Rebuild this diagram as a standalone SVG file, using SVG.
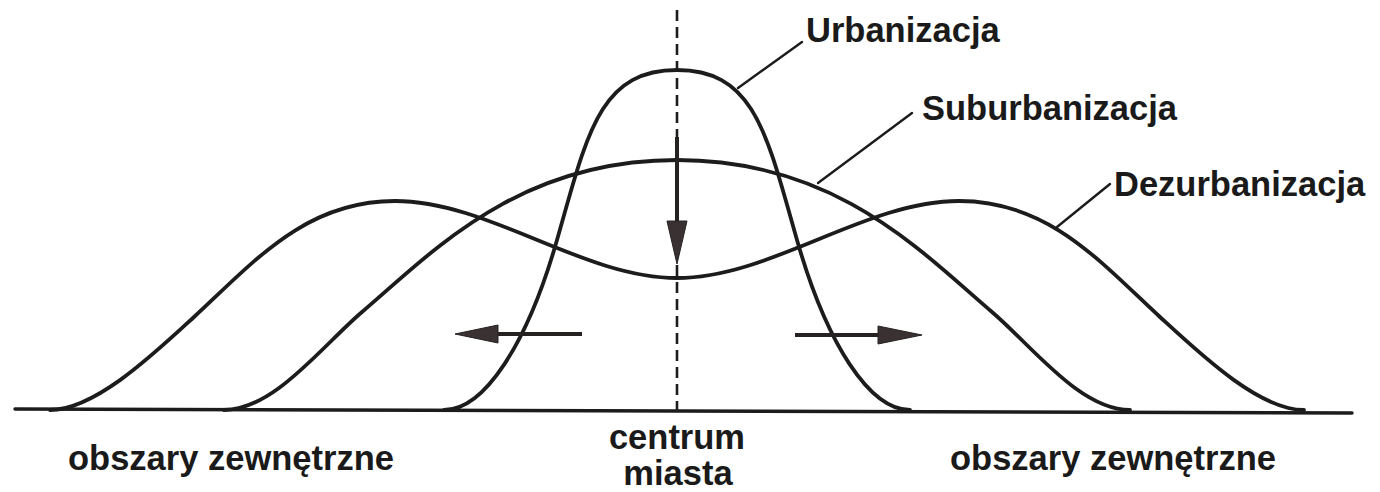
<svg xmlns="http://www.w3.org/2000/svg" width="1380" height="492" viewBox="0 0 1380 492">
  <style>
    .curve { fill: none; stroke: #1c1c1c; stroke-width: 3.8; stroke-linecap: round; stroke-linejoin: round; }
    .base { fill: none; stroke: #1c1c1c; stroke-width: 3.4; stroke-linecap: round; }
    .dash { fill: none; stroke: #1c1c1c; stroke-width: 2.6; stroke-dasharray: 11 6; }
    .leader { fill: none; stroke: #1c1c1c; stroke-width: 2.4; stroke-linecap: round; }
    .shaft { fill: none; stroke: #262222; stroke-width: 4; }
    .head { fill: #3a3132; stroke: #262222; stroke-width: 1; stroke-linejoin: round; }
    .lbl { font-family: "Liberation Sans", Arial, Helvetica, sans-serif; font-weight: bold; font-size: 34.5px; fill: #1a1a1a; }
  </style>

  <g id="axis">
    <line class="base" x1="15" y1="409" x2="1352" y2="413"/>
    <line class="dash" x1="677" y1="10" x2="677" y2="410"/>
  </g>

  <g id="dezurbanizacja-curve">
    <path class="curve" d="M 50,410 C 95,410 154,353.8 194,317 C 254,261.8 305,201 395,201 C 489,201 583,278 677,278 C 771,278 865,201 959,201 C 1049,201 1100,261.8 1160,317 C 1200,353.8 1259,410 1304,410"/>
  </g>

  <g id="suburbanizacja-curve">
    <path class="curve" d="M 224,410 C 274,410 322,346 362,312 C 432,252.5 517,160 677,160 C 837,160 922,252.5 992,312 C 1032,346 1080,410 1130,410"/>
  </g>

  <g id="urbanizacja-curve">
    <path class="curve" d="M 444,410 C 484,410 527,345 557,240 C 587,135 599,70 677,70 C 755,70 767,135 797,240 C 827,345 870,410 910,410"/>
  </g>

  <g id="connectors">
    <line class="leader" x1="738" y1="88" x2="802" y2="42"/>
    <line class="leader" x1="818" y1="183" x2="912" y2="113"/>
    <line class="leader" x1="1057" y1="227" x2="1110" y2="184"/>
    <line class="shaft" x1="677" y1="137" x2="677" y2="224"/>
    <polygon class="head" points="667,221 687,221 677,264"/>
    <line class="shaft" x1="582" y1="334" x2="495" y2="334"/>
    <polygon class="head" points="498,325 498,343 455,334"/>
    <line class="shaft" x1="795" y1="335" x2="881" y2="335"/>
    <polygon class="head" points="878,326 878,344 922,335"/>
  </g>

  <g id="label-urbanizacja"><text class="lbl" x="806" y="42">Urbanizacja</text></g>
  <g id="label-suburbanizacja"><text class="lbl" x="922" y="120">Suburbanizacja</text></g>
  <g id="label-dezurbanizacja"><text class="lbl" x="1114" y="196">Dezurbanizacja</text></g>
  <g id="label-obszary-left"><text class="lbl" x="68" y="470">obszary zewnętrzne</text></g>
  <g id="label-centrum"><text class="lbl" x="677" y="449" text-anchor="middle">centrum</text><text class="lbl" x="678" y="485" text-anchor="middle">miasta</text></g>
  <g id="label-obszary-right"><text class="lbl" x="950" y="470">obszary zewnętrzne</text></g>
</svg>
